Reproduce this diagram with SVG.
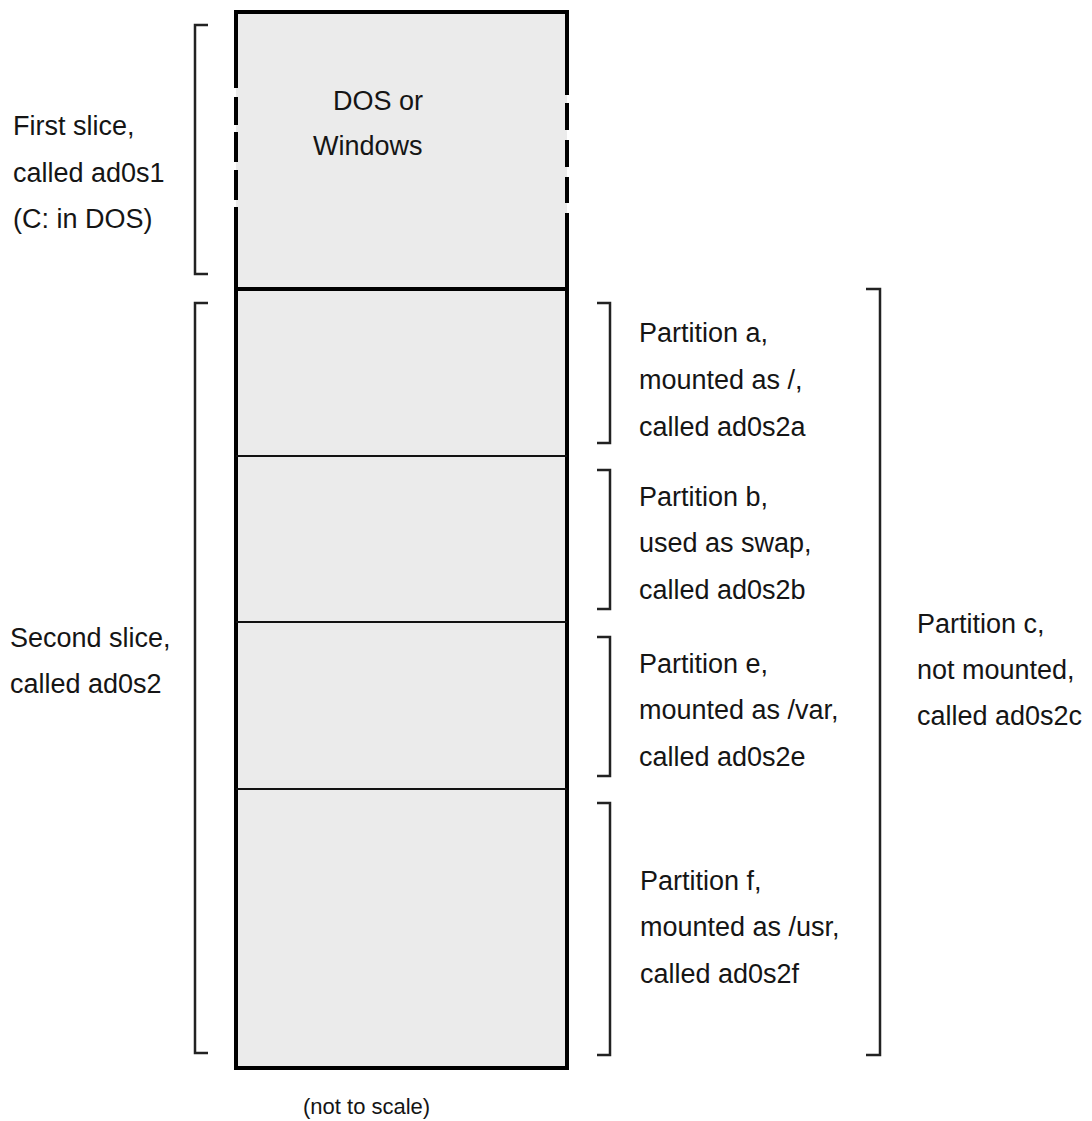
<svg xmlns="http://www.w3.org/2000/svg" width="1092" height="1121" viewBox="0 0 1092 1121">
<style>
text{font-family:"Liberation Sans",Arial,sans-serif;font-size:27px;fill:#151515}
.small{font-size:22px}
.br{fill:none;stroke:#222;stroke-width:2.5}
.edge{fill:none;stroke:#000;stroke-width:4}
.div{stroke:#111;stroke-width:2}
</style>
<rect width="1092" height="1121" fill="#fff"/>
<g id="disk">
<rect x="236" y="12" width="331" height="1056" fill="#ebebeb"/>
<path class="edge" d="M234 12H569M234 1068H569M236 289H567"/>
<path class="edge" d="M236 12V88M236 97V125M236 132V162M236 170V200M236 207V1068"/>
<path class="edge" d="M567 12V95M567 103V130M567 140V167M567 177V203M567 213V1068"/>
<path class="div" d="M236 456H567M236 622H567M236 789H567"/>
</g>
<g id="slice1">
<text x="333" y="110">DOS or</text>
<text x="313" y="155">Windows</text>
</g>
<g id="connectors">
<path class="br" d="M208 25H195V274H208"/>
<path class="br" d="M208 303H195V1053H208"/>
<path class="br" d="M597 303H610V443H597"/>
<path class="br" d="M597 470H610V609H597"/>
<path class="br" d="M597 637H610V776H597"/>
<path class="br" d="M597 803H610V1055H597"/>
<path class="br" d="M866 289H880V1055H866"/>
</g>
<g id="label-first">
<text x="13" y="135">First slice,</text>
<text x="13" y="182">called ad0s1</text>
<text x="13" y="228">(C: in DOS)</text>
</g>
<g id="label-second">
<text x="10" y="647">Second slice,</text>
<text x="10" y="693">called ad0s2</text>
</g>
<g id="label-a">
<text x="639" y="342">Partition a,</text>
<text x="639" y="389">mounted as /,</text>
<text x="639" y="436">called ad0s2a</text>
</g>
<g id="label-b">
<text x="639" y="506">Partition b,</text>
<text x="639" y="552">used as swap,</text>
<text x="639" y="599">called ad0s2b</text>
</g>
<g id="label-e">
<text x="639" y="673">Partition e,</text>
<text x="639" y="719">mounted as /var,</text>
<text x="639" y="766">called ad0s2e</text>
</g>
<g id="label-f">
<text x="640" y="890">Partition f,</text>
<text x="640" y="936">mounted as /usr,</text>
<text x="640" y="983">called ad0s2f</text>
</g>
<g id="label-c">
<text x="917" y="633">Partition c,</text>
<text x="917" y="679">not mounted,</text>
<text x="917" y="725">called ad0s2c</text>
</g>
<text class="small" x="303" y="1114">(not to scale)</text>
</svg>
